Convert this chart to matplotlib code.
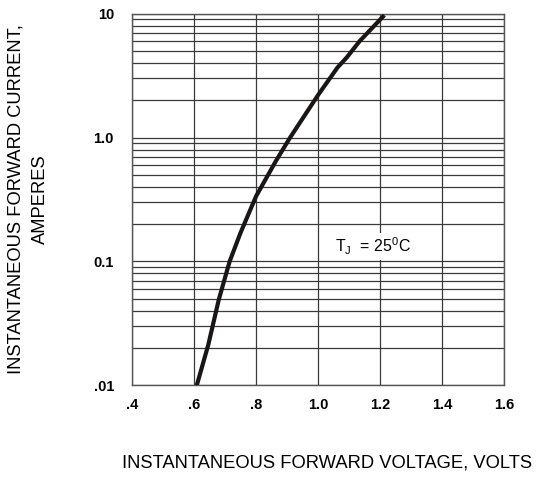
import numpy as np
import matplotlib
matplotlib.use('Agg')
import matplotlib.pyplot as plt
from matplotlib.ticker import FixedLocator, FixedFormatter, LogLocator, NullFormatter

plt.rcParams['font.family'] = ['Liberation Sans', 'DejaVu Sans']

# forward characteristic (volts, amperes)
vf = [0.609, 0.646, 0.680, 0.715, 0.750, 0.800, 0.864, 0.910, 1.000, 1.063, 1.093, 1.134, 1.214]
i_f = [0.010, 0.0212, 0.0492, 0.100, 0.170, 0.335, 0.646, 1.00, 2.20, 3.68, 4.44, 5.99, 9.73]

x_ticks = [0.4, 0.6, 0.8, 1.0, 1.2, 1.4, 1.6]
x_labels = ['.4', '.6', '.8', '1.0', '1.2', '1.4', '1.6']
y_ticks = [0.01, 0.1, 1.0, 10]
y_labels = ['.01', '0.1', '1.0', '10']

fig = plt.figure(figsize=(5.37, 4.79), dpi=100)
ax = fig.add_axes([132/537, 1 - 385.3/479, (504 - 132)/537, (385.3 - 13.7)/479])

ax.plot(vf, i_f, '-', color='#1a1616', lw=3.0, solid_capstyle='butt',
        solid_joinstyle='round', zorder=3)

ax.set_yscale('log')
ax.set_xlim(0.4, 1.6)
ax.set_ylim(0.01, 10)

ax.xaxis.set_major_locator(FixedLocator(x_ticks))
ax.xaxis.set_major_formatter(FixedFormatter(x_labels))
ax.yaxis.set_major_locator(FixedLocator(y_ticks))
ax.yaxis.set_major_formatter(FixedFormatter(y_labels))
ax.yaxis.set_minor_locator(LogLocator(base=10, subs=np.arange(2, 10)))
ax.yaxis.set_minor_formatter(NullFormatter())

ax.grid(which='major', axis='both', color='#3a3a3a', lw=0.9)
ax.grid(which='minor', axis='y', color='#3a3a3a', lw=0.9)
ax.tick_params(which='both', length=0)
ax.tick_params(axis='y', pad=13)
ax.tick_params(axis='x', pad=9)
for lab in ax.get_xticklabels() + ax.get_yticklabels():
    lab.set_fontsize(10.5)
    lab.set_fontweight('bold')
for s in ax.spines.values():
    s.set_color('#555555')
    s.set_linewidth(1.0)

ax.text(1.179, 0.132, r'T$_\mathregular{J}$  = 25$^\mathregular{0}$C', fontsize=11.5,
        ha='center', va='center', zorder=4,
        bbox=dict(facecolor='white', edgecolor='none', pad=2))

fig.text(326.7/537, 1 - 463/479, 'INSTANTANEOUS FORWARD VOLTAGE, VOLTS',
         fontsize=13.2, ha='center', va='center')
fig.text(28/537, 1 - 199/479, 'INSTANTANEOUS FORWARD CURRENT,\nAMPERES',
         fontsize=13.2, ha='center', va='center', rotation=90,
         multialignment='center', linespacing=1.6)

fig.savefig('out.png', dpi=100)
